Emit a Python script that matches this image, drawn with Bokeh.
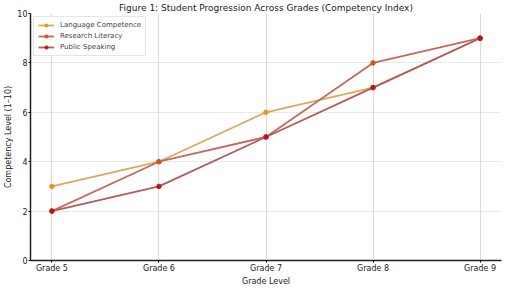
from bokeh.plotting import figure
from bokeh.models import FixedTicker, Legend, LegendItem
from bokeh.embed import file_html
from bokeh.resources import INLINE

grades = ["Grade 5", "Grade 6", "Grade 7", "Grade 8", "Grade 9"]
language = [3, 4, 6, 7, 9]
research = [2, 4, 5, 8, 9]
public = [2, 3, 5, 7, 9]
title_text = "Figure 1: Student Progression Across Grades (Competency Index)"

FONT = "DejaVu Sans"
xs = list(range(len(grades)))

p = figure(width=503, height=288, output_backend="svg", toolbar_location=None,
           x_range=(-0.2, 4.2), y_range=(0, 10),
           min_border_left=30, min_border_right=2, min_border_top=2, min_border_bottom=18)
p.outline_line_color = None
p.title.text = title_text
p.title.text_font = FONT
p.title.text_font_size = "9px"
p.title.text_font_style = "normal"
p.title.text_color = "#222222"
p.title.align = "center"
p.title.standoff = 1
p.title.offset = 0

series = [
    ("Language Competence", language, "#dca85a", "#e8961c"),
    ("Research Literacy", research, "#c46a5e", "#d2521e"),
    ("Public Speaking", public, "#b35c5c", "#bf141c"),
]
items = []
for name, vals, lc, mc in series:
    l = p.line(xs, vals, line_color=lc, line_width=1.8)
    c = p.scatter(xs, vals, size=4.5, fill_color=mc, line_color=mc)
    items.append(LegendItem(label=name, renderers=[l, c]))

legend = Legend(items=items, location="top_left", label_text_font=FONT,
                label_text_font_size="7px", glyph_width=16, glyph_height=8,
                label_height=8, spacing=3, padding=4, margin=3,
                border_line_color="#cccccc", border_line_width=1,
                background_fill_alpha=0.9, label_standoff=6)
p.add_layout(legend)

p.xaxis.ticker = FixedTicker(ticks=xs)
p.xaxis.major_label_overrides = {i: g for i, g in enumerate(grades)}
p.yaxis.ticker = FixedTicker(ticks=[0, 2, 4, 6, 8, 10])

for ax in (p.xaxis, p.yaxis):
    ax.axis_line_color = "#222222"
    ax.axis_line_width = 1.5
    ax.major_tick_out = 2
    ax.major_tick_in = 0
    ax.minor_tick_out = 0
    ax.minor_tick_in = 0
    ax.major_label_text_font = FONT
    ax.major_label_text_font_size = "8px"
    ax.major_label_text_color = "#222222"
    ax.axis_label_text_font = FONT
    ax.axis_label_text_font_size = "8px"
    ax.axis_label_text_font_style = "normal"
    ax.axis_label_text_color = "#222222"
    ax.major_label_standoff = 1
    ax.axis_label_standoff = 1
p.xaxis.axis_label = "Grade Level"
p.yaxis.axis_label = "Competency Level (1\u201310)"

p.xgrid.grid_line_color = "#d0d0d0"
p.xgrid.grid_line_width = 0.8
p.ygrid.grid_line_color = "#c8c8c8"
p.ygrid.grid_line_dash = "1 1"
p.ygrid.grid_line_width = 0.8

open("out.html", "w").write(file_html(p, INLINE))
